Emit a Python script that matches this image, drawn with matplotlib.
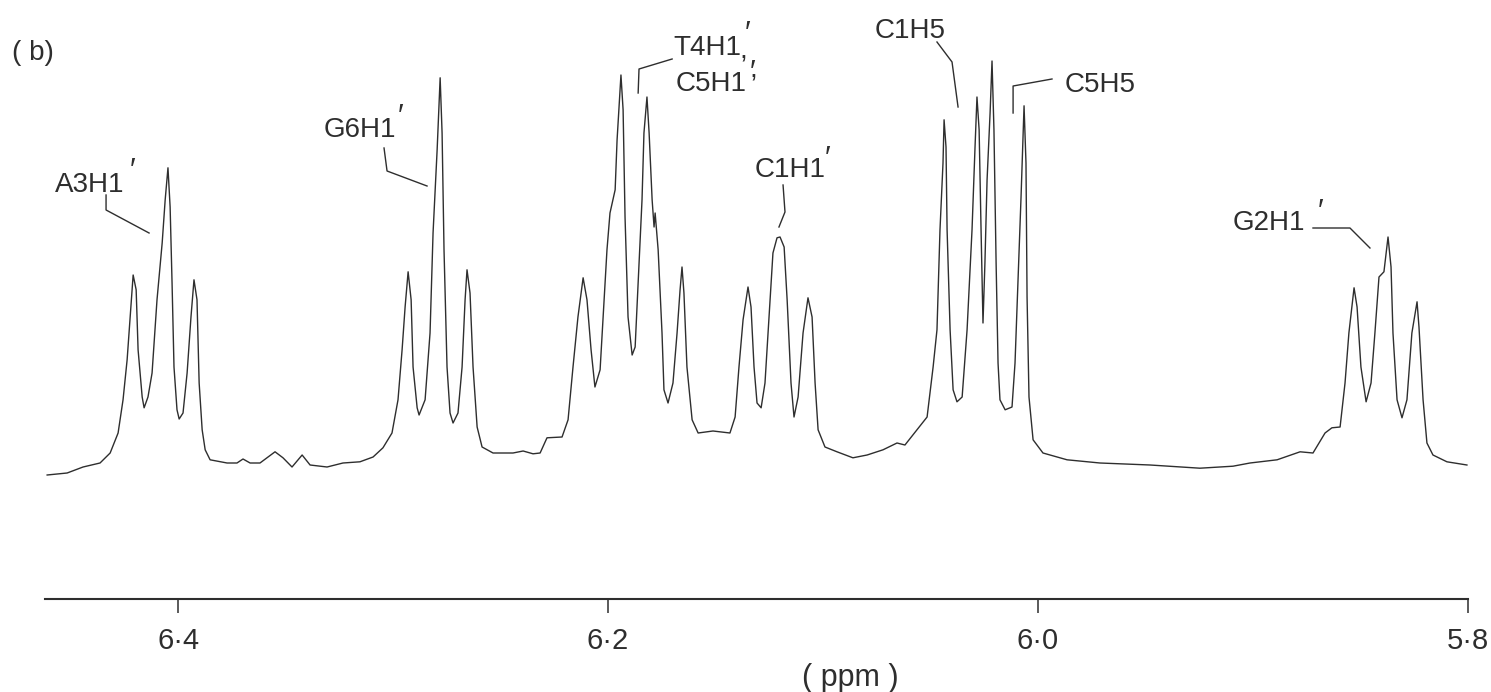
import matplotlib
matplotlib.use("Agg")
import matplotlib.pyplot as plt

# --- 1H NMR trace (chemical shift in ppm, relative intensity) ---
shift_ppm = [
    6.4609, 6.4516, 6.4442, 6.4363, 6.4316, 6.4279, 6.4256, 6.4237, 6.4223, 6.4209,
    6.4195, 6.4186, 6.4167, 6.4158, 6.4140, 6.4121, 6.4098, 6.4074, 6.4060, 6.4047,
    6.4037, 6.4028, 6.4019, 6.4005, 6.3995, 6.3977, 6.3958, 6.3940, 6.3926, 6.3912,
    6.3902, 6.3888, 6.3874, 6.3851, 6.3772, 6.3726, 6.3698, 6.3665, 6.3619, 6.3549,
    6.3512, 6.3470, 6.3423, 6.3386, 6.3307, 6.3233, 6.3154, 6.3093, 6.3047, 6.3005,
    6.2977, 6.2958, 6.2944, 6.2930, 6.2916, 6.2907, 6.2888, 6.2879, 6.2851, 6.2828,
    6.2814, 6.2795, 6.2781, 6.2772, 6.2763, 6.2749, 6.2735, 6.2721, 6.2698, 6.2679,
    6.2665, 6.2656, 6.2642, 6.2628, 6.2609, 6.2586, 6.2535, 6.2442, 6.2395, 6.2349,
    6.2316, 6.2284, 6.2214, 6.2186, 6.2163, 6.2140, 6.2116, 6.2098, 6.2079, 6.2061,
    6.2037, 6.2023, 6.2005, 6.1991, 6.1967, 6.1958, 6.1940, 6.1930, 6.1921, 6.1907,
    6.1888, 6.1874, 6.1860, 6.1842, 6.1833, 6.1819, 6.1809, 6.1795, 6.1786, 6.1781,
    6.1767, 6.1749, 6.1740, 6.1721, 6.1698, 6.1679, 6.1665, 6.1656, 6.1647, 6.1633,
    6.1609, 6.1581, 6.1512, 6.1433, 6.1409, 6.1391, 6.1372, 6.1349, 6.1335, 6.1321,
    6.1307, 6.1288, 6.1270, 6.1251, 6.1233, 6.1214, 6.1200, 6.1181, 6.1167, 6.1149,
    6.1135, 6.1116, 6.1093, 6.1070, 6.1051, 6.1037, 6.1023, 6.0991, 6.0935, 6.0861,
    6.0795, 6.0721, 6.0656, 6.0619, 6.0563, 6.0516, 6.0488, 6.0470, 6.0456, 6.0442,
    6.0437, 6.0428, 6.0423, 6.0409, 6.0395, 6.0377, 6.0353, 6.0330, 6.0307, 6.0293,
    6.0284, 6.0274, 6.0265, 6.0256, 6.0247, 6.0237, 6.0223, 6.0214, 6.0205, 6.0195,
    6.0186, 6.0177, 6.0153, 6.0121, 6.0107, 6.0093, 6.0079, 6.0065, 6.0056, 6.0051,
    6.0042, 6.0023, 5.9977, 5.9865, 5.9712, 5.9479, 5.9247, 5.9093, 5.9014, 5.8888,
    5.8781, 5.8721, 5.8665, 5.8633, 5.8595, 5.8572, 5.8554, 5.8530, 5.8516, 5.8498,
    5.8474, 5.8451, 5.8433, 5.8414, 5.8391, 5.8372, 5.8358, 5.8349, 5.8330, 5.8307,
    5.8284, 5.8261, 5.8237, 5.8228, 5.8209, 5.8191, 5.8163, 5.8098, 5.8005,
]
intensity = [
    -0.025, -0.020, -0.005, 0.005, 0.030, 0.080, 0.163, 0.263, 0.370, 0.475,
    0.438, 0.288, 0.170, 0.143, 0.170, 0.230, 0.413, 0.555, 0.663, 0.743,
    0.645, 0.455, 0.245, 0.138, 0.115, 0.130, 0.230, 0.370, 0.463, 0.413,
    0.205, 0.088, 0.038, 0.013, 0.005, 0.005, 0.015, 0.005, 0.005, 0.033,
    0.018, -0.005, 0.025, 0.000, -0.005, 0.005, 0.008, 0.020, 0.043, 0.080,
    0.163, 0.288, 0.395, 0.483, 0.413, 0.245, 0.143, 0.125, 0.163, 0.330,
    0.580, 0.788, 0.968, 0.830, 0.538, 0.245, 0.130, 0.105, 0.130, 0.245,
    0.413, 0.488, 0.430, 0.245, 0.095, 0.045, 0.030, 0.030, 0.035, 0.028,
    0.030, 0.068, 0.070, 0.113, 0.245, 0.370, 0.468, 0.413, 0.288, 0.195,
    0.238, 0.370, 0.538, 0.630, 0.688, 0.813, 0.975, 0.888, 0.620, 0.370,
    0.275, 0.295, 0.455, 0.663, 0.830, 0.920, 0.830, 0.663, 0.595, 0.630,
    0.538, 0.330, 0.188, 0.155, 0.205, 0.330, 0.438, 0.495, 0.430, 0.245,
    0.113, 0.080, 0.085, 0.080, 0.120, 0.245, 0.363, 0.445, 0.395, 0.245,
    0.155, 0.143, 0.205, 0.370, 0.530, 0.568, 0.570, 0.545, 0.413, 0.205,
    0.120, 0.170, 0.330, 0.418, 0.370, 0.205, 0.088, 0.045, 0.033, 0.018,
    0.025, 0.038, 0.055, 0.050, 0.088, 0.120, 0.245, 0.338, 0.588, 0.755,
    0.863, 0.795, 0.588, 0.338, 0.188, 0.158, 0.170, 0.338, 0.588, 0.795,
    0.920, 0.838, 0.588, 0.355, 0.505, 0.713, 0.880, 1.010, 0.838, 0.505,
    0.255, 0.163, 0.138, 0.145, 0.255, 0.463, 0.670, 0.898, 0.755, 0.420,
    0.170, 0.063, 0.030, 0.013, 0.005, 0.000, -0.008, -0.003, 0.005, 0.013,
    0.033, 0.030, 0.080, 0.093, 0.095, 0.205, 0.330, 0.443, 0.395, 0.245,
    0.158, 0.205, 0.330, 0.470, 0.483, 0.570, 0.495, 0.330, 0.163, 0.118,
    0.163, 0.330, 0.408, 0.345, 0.163, 0.055, 0.025, 0.008, 0.000,
]

tick_ppm = [6.4, 6.2, 6.0, 5.8]
tick_text = ["6·4", "6·2", "6·0", "5·8"]

# --- peak assignments ---
assign_names = ["A3H1", "G6H1", "T4H1", "C5H1", "C1H1", "C1H5", "C5H5", "G2H1"]

# text anchor (ppm, intensity at baseline) for each assignment
label_pos = {
    "A3H1": (6.4572, 0.6825),
    "G6H1": (6.3325, 0.820),
    "T4H1": (6.1698, 1.025),
    "C5H1": (6.1688, 0.935),
    "C1H1": (6.1316, 0.720),
    "C1H5": (6.0758, 1.0675),
    "C5H5": (5.9875, 0.9325),
    "G2H1": (5.9093, 0.5875),
}
# prime marks (ppm, baseline intensity)
prime_pos = {
    "A3H1": (6.4212, 0.7125),
    "G6H1": (6.2966, 0.8475),
    "T4H1": (6.1352, 1.055),
    "C5H1": (6.1329, 0.958),
    "C1H1": (6.0980, 0.7425),
    "G2H1": (5.8687, 0.610),
}
comma_pos = [(6.1372, 1.0175), (6.1324, 0.968)]

# leader lines from label to peak
leaders = {
    "A3H1": ([6.4335, 6.4335, 6.4135], [0.675, 0.6375, 0.580]),
    "G6H1": ([6.3042, 6.3028, 6.2842], [0.7925, 0.735, 0.6975]),
    "T4H1": ([6.1702, 6.1856, 6.1860], [1.015, 0.990, 0.930]),
    "C1H1": ([6.1186, 6.1177, 6.1205], [0.700, 0.6325, 0.595]),
    "C1H5": ([6.0470, 6.0400, 6.0372], [1.0575, 1.0075, 0.895]),
    "C5H5": ([5.9935, 6.0116, 6.0116], [0.965, 0.9475, 0.880]),
    "G2H1": ([5.8721, 5.8549, 5.8456], [0.5925, 0.5925, 0.5425]),
}

INK = "#2e2e2e"
FONT = ["Liberation Sans", "DejaVu Sans"]
FS = 20

W, H = 1491, 692
fig = plt.figure(figsize=(W / 100, H / 100), dpi=100)
ax = fig.add_axes([45 / W, 93 / H, 1423 / W, 599 / H])

ax.plot(shift_ppm, intensity, color=INK, lw=1.0, solid_joinstyle="round")

ax.set_xlim(6.4619, 5.8)
ax.set_ylim(-0.335, 1.1625)

for side in ("top", "left", "right"):
    ax.spines[side].set_visible(False)
ax.spines["bottom"].set_color(INK)
ax.spines["bottom"].set_linewidth(1.5)
ax.set_yticks([])
ax.set_xticks(tick_ppm)
ax.set_xticklabels(tick_text, fontfamily=FONT, fontsize=21, color=INK)
ax.tick_params(axis="x", direction="out", length=10, width=1.1, color=INK, pad=10)
ax.patch.set_alpha(0)

for name in assign_names:
    x, y = label_pos[name]
    ax.text(x, y, name, family=FONT, fontsize=FS, color=INK,
            ha="left", va="baseline", clip_on=False)
for name, (x, y) in prime_pos.items():
    ax.text(x, y, "′", family=FONT, fontsize=22, color=INK,
            ha="center", va="baseline", clip_on=False)
for x, y in comma_pos:
    ax.text(x, y, ",", family=FONT, fontsize=FS, color=INK,
            ha="center", va="baseline", clip_on=False)
for name, (lx, ly) in leaders.items():
    ax.plot(lx, ly, color=INK, lw=1.0, clip_on=False)

fig.text(12 / W, 1 - 53 / H, "( b)", family=FONT, fontsize=FS, color=INK,
         ha="left", va="center")
fig.text(850 / W, 1 - 678 / H, "( ppm )", family=FONT, fontsize=22, color=INK,
         ha="center", va="center")

fig.savefig("out.png", dpi=100, facecolor="white")
